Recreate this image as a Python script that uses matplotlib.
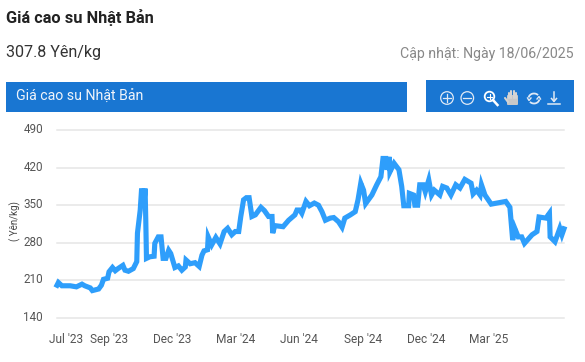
# Gia cao su Nhat Ban - ve lai bieu do
import numpy as np
import matplotlib
matplotlib.use('Agg')
import matplotlib.pyplot as plt
from matplotlib.patches import Rectangle, Circle, Arc, FancyBboxPatch
from matplotlib.transforms import ScaledTranslation

# ngay tinh tu 18/06/2023
ngay = [0, 2, 7, 19, 28, 36, 40, 48, 51, 60, 64, 67, 73, 75, 80, 84, 88, 95, 98, 103,
        110, 115, 116, 120, 122, 125, 127, 128, 129, 134, 140, 141, 146, 150, 153, 157, 161, 164, 170, 175,
        180, 185, 186, 192, 199, 205, 209, 212, 217, 218, 223, 229, 235, 241, 246, 252, 257, 262, 265, 269,
        273, 277, 281, 286, 294, 299, 305, 310, 311, 314, 326, 334, 343, 346, 350, 353, 359, 364, 371, 377,
        382, 387, 394, 399, 406, 411, 415, 423, 430, 434, 438, 442, 445, 454, 461, 467, 470, 474, 476, 479,
        480, 486, 493, 497, 500, 507, 508, 514, 516, 520, 523, 528, 531, 536, 540, 544, 552, 556, 562, 568,
        575, 581, 588, 597, 600, 605, 610, 612, 617, 626, 647, 653, 657, 660, 665, 670, 674, 685, 692, 695,
        705, 710, 711, 718, 722, 725, 728, 731]
gia = [201, 206, 200, 200, 198, 203, 200, 196, 191, 194, 201, 212, 214, 226, 234, 228, 232, 238, 229, 227,
       232, 245, 298, 341, 381, 347, 381, 322, 251, 254, 255, 279, 291, 291, 251, 251, 266, 260, 234, 237,
       229, 235, 248, 241, 243, 236, 257, 265, 267, 291, 276, 290, 278, 301, 307, 295, 301, 301, 329, 360,
       364, 364, 329, 332, 346, 340, 329, 329, 298, 312, 310, 322, 332, 341, 341, 335, 357, 349, 354, 350,
       338, 322, 326, 327, 319, 309, 326, 332, 338, 360, 391, 378, 353, 369, 388, 403, 437, 437, 416, 440,
       412, 428, 416, 385, 349, 349, 372, 369, 350, 350, 388, 388, 375, 397, 369, 378, 369, 385, 382, 369,
       388, 382, 398, 391, 371, 378, 369, 388, 369, 352, 357, 346, 285, 307, 291, 291, 279, 295, 301, 328,
       326, 335, 291, 282, 296, 307, 295, 306]

moc_ngay = [13, 75, 166, 257, 349, 441, 532, 622]
nhan_x = ["Jul '23", "Sep '23", "Dec '23", "Mar '24", "Jun '24", "Sep '24", "Dec '24", "Mar '25"]
moc_gia = [140, 210, 280, 350, 420, 490]

plt.rcParams['font.family'] = ['Roboto', 'DejaVu Sans']
W, H = 585, 362
fig = plt.figure(figsize=(W / 100, H / 100), dpi=100, facecolor='white')

# lop nen theo toa do pixel cho tieu de va thanh cong cu
nen = fig.add_axes([0, 0, 1, 1])
nen.set_xlim(0, W)
nen.set_ylim(H, 0)
nen.axis('off')

nen.text(6, 17, 'Giá cao su Nhật Bản', fontsize=11.8, fontweight='bold', color='#222222', va='center')
nen.text(6, 52, '307.8 Yên/kg', fontsize=11.6, color='#333333', va='center')
nen.text(574, 54, 'Cập nhật: Ngày 18/06/2025', fontsize=10.2, color='#888888', va='center', ha='right')

xanh = '#1976D2'
nen.add_patch(Rectangle((6, 82), 401, 30, color=xanh, lw=0))
nen.add_patch(Rectangle((426, 80), 148, 32, color=xanh, lw=0))
nen.text(16, 97, 'Giá cao su Nhật Bản', fontsize=10.2, color='#f0f4fa', va='center')

# cac icon
icon = '#dfe9f5'
nen.add_patch(Circle((447, 98), 6.3, fill=False, ec=icon, lw=0.9))
nen.plot([443, 451], [98, 98], color=icon, lw=0.9)
nen.plot([447, 447], [94, 102], color=icon, lw=0.9)
nen.add_patch(Circle((467.3, 98), 6.3, fill=False, ec=icon, lw=0.9))
nen.plot([463.3, 471.3], [98, 98], color=icon, lw=0.9)
nen.add_patch(Circle((489.5, 96.5), 4.8, fill=False, ec='white', lw=1.3))
nen.plot([493, 497.5], [100, 105], color='white', lw=1.8)
nen.plot([487, 492], [96.5, 96.5], color='white', lw=0.8)
nen.plot([489.5, 489.5], [94, 99], color='white', lw=0.8)
# ban tay
nen.add_patch(FancyBboxPatch((508, 96), 9, 8, boxstyle='round,pad=1', color='#c8c8c8', lw=0))
for xh, yh in zip([508.5, 511, 513.5, 516], [92.5, 91, 91, 92.5]):
    nen.plot([xh, xh], [yh, 98], color='#d4d4d4', lw=1.5, solid_capstyle='round')
nen.plot([505, 508], [98, 102], color='#d4d4d4', lw=1.5, solid_capstyle='round')
# lam moi
nen.add_patch(Arc((534, 98.5), 11, 10, theta1=190, theta2=320, color=icon, lw=1.3))
nen.add_patch(Arc((534, 98.5), 11, 10, theta1=10, theta2=140, color=icon, lw=1.3))
nen.plot([527.5, 529, 531], [98, 100.5, 98], color=icon, lw=1)
nen.plot([537, 539, 540.5], [99, 96.5, 99], color=icon, lw=1)
# tai xuong
nen.plot([554, 554], [92, 101], color=icon, lw=1.1)
nen.plot([551.5, 554, 556.5], [98.5, 101.5, 98.5], color=icon, lw=1.1)
nen.plot([548, 559.5], [104, 104], color=icon, lw=1.1)

# bieu do chinh
x0, x1, y0, y1 = 57, 564, 130, 318
ax = fig.add_axes([x0 / W, 1 - y1 / H, (x1 - x0) / W, (y1 - y0) / H])
ax.patch.set_alpha(0)
ax.plot(ngay, gia, color='#2E9EFB', lw=3.7, solid_joinstyle='miter', clip_on=False, zorder=3)
ax.set_xlim(0, 731)
ax.set_ylim(140, 490)
ax.set_xticks(moc_ngay)
ax.set_xticklabels(nhan_x, fontsize=8.6, color='#555555')
ax.set_yticks(moc_gia)
ax.set_yticklabels(moc_gia, fontsize=8.4, color='#555555')
ax.tick_params(length=0)
ax.tick_params(axis='x', pad=11)
ax.tick_params(axis='y', pad=10)
for s in ax.spines.values():
    s.set_visible(False)
ax.grid(axis='y', color='#e6e6e6', lw=1.1)
for g in ax.get_ygridlines():
    g.set_clip_on(False)
ax.set_axisbelow(True)

# nhan truc y nam cao hon duong luoi mot chut
len_tren = ScaledTranslation(0, 2 / 100, fig.dpi_scale_trans)
for t in ax.get_yticklabels():
    t.set_transform(t.get_transform() + len_tren)

nen.text(15, 221, '( Yên/kg)', fontsize=7, color='#444444', rotation=90, va='center', ha='center')

plt.savefig('out.png', dpi=100)
